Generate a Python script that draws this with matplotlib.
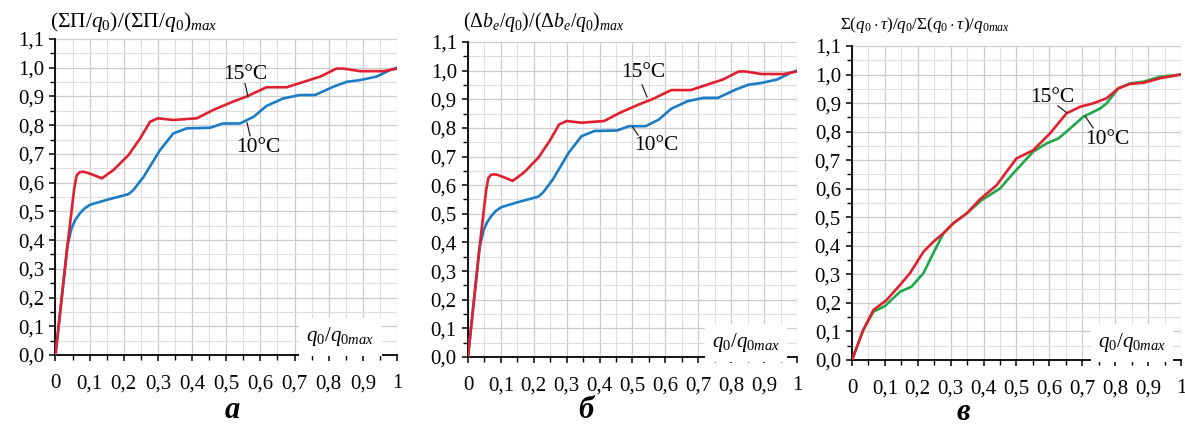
import matplotlib.pyplot as plt
from matplotlib.ticker import MultipleLocator, FuncFormatter

# === Fonts ===
plt.rcParams["font.family"] = ["Liberation Serif", "DejaVu Serif"]
plt.rcParams["mathtext.fontset"] = "custom"
plt.rcParams["mathtext.rm"] = "Liberation Serif"
plt.rcParams["mathtext.it"] = "Liberation Serif:italic"
plt.rcParams["mathtext.bf"] = "Liberation Serif:bold"

# === Data ===
# panel a / б : red = 15 °C, blue = 10 °C
x_red_ab = [0, 0.035, 0.055, 0.062, 0.07, 0.08, 0.092, 0.115, 0.136, 0.17, 0.214, 0.248,
            0.277, 0.30, 0.345, 0.414, 0.462, 0.52, 0.56, 0.618, 0.677, 0.775, 0.823,
            0.843, 0.892, 0.96, 1.0]
y_red_ab = [0, 0.38, 0.58, 0.625, 0.636, 0.638, 0.635, 0.625, 0.615, 0.644, 0.696, 0.754,
            0.812, 0.824, 0.818, 0.824, 0.853, 0.882, 0.90, 0.932, 0.932, 0.969, 0.997,
            0.997, 0.988, 0.988, 0.997]
x_blue_ab = [0, 0.035, 0.047, 0.058, 0.072, 0.085, 0.101, 0.15, 0.214, 0.228, 0.258, 0.306,
             0.345, 0.384, 0.453, 0.49, 0.54, 0.58, 0.618, 0.667, 0.716, 0.76, 0.814,
             0.853, 0.892, 0.94, 0.98, 1.0]
y_blue_ab = [0, 0.38, 0.441, 0.47, 0.494, 0.51, 0.523, 0.54, 0.56, 0.574, 0.62, 0.713,
             0.771, 0.789, 0.791, 0.806, 0.806, 0.829, 0.867, 0.893, 0.905, 0.905, 0.934,
             0.951, 0.957, 0.969, 0.992, 1.0]

# panel в : red = 15 °C, green = 10 °C
x_red_c = [0, 0.034, 0.065, 0.105, 0.146, 0.176, 0.217, 0.247, 0.278, 0.308, 0.349, 0.389,
           0.44, 0.47, 0.50, 0.551, 0.602, 0.652, 0.693, 0.733, 0.774, 0.81, 0.845,
           0.886, 0.936, 1.0]
y_red_c = [0, 0.105, 0.175, 0.21, 0.263, 0.304, 0.379, 0.414, 0.444, 0.479, 0.514, 0.563,
           0.613, 0.66, 0.706, 0.735, 0.794, 0.864, 0.887, 0.899, 0.917, 0.952, 0.967,
           0.971, 0.987, 1.0]
x_green_c = [0, 0.034, 0.065, 0.10, 0.146, 0.181, 0.217, 0.247, 0.278, 0.308, 0.349, 0.394,
             0.45, 0.49, 0.551, 0.592, 0.627, 0.652, 0.703, 0.754, 0.774, 0.81, 0.845,
             0.886, 0.936, 1.0]
y_green_c = [0, 0.105, 0.169, 0.189, 0.239, 0.257, 0.304, 0.374, 0.444, 0.479, 0.514, 0.56,
             0.601, 0.654, 0.73, 0.759, 0.776, 0.80, 0.852, 0.881, 0.899, 0.952, 0.969,
             0.975, 0.992, 1.0]

titles = [r"$(\Sigma\Pi/q_0)/(\Sigma\Pi/q_0)_{max}$",
          r"$(\Delta b_e/q_0)/(\Delta b_e/q_0)_{max}$",
          r"$\Sigma(q_0\cdot\tau)/q_0/\Sigma(q_0\cdot\tau)/q_{0max}$"]
panel_labels = ["а", "б", "в"]

RED = "#e0202e"
BLUE = "#1a7cc4"
GREEN = "#1fa84a"

# === Layout ===
fig = plt.figure(figsize=(11.85, 4.30), dpi=100)
rects = [[0.0468, 0.1744, 0.2882, 0.7349],
         [0.3949, 0.1698, 0.2777, 0.7326],
         [0.7190, 0.1628, 0.2776, 0.7302]]
axes = [fig.add_axes(r) for r in rects]


def fmt_x(v, pos):
    if abs(v) < 1e-9:
        return "0"
    if abs(v - 1) < 1e-9:
        return "1"
    return f"{v:.1f}".replace(".", ",")


def fmt_y(v, pos):
    return f"{v:.1f}".replace(".", ",")


series = [
    [(x_blue_ab, y_blue_ab, BLUE), (x_red_ab, y_red_ab, RED)],
    [(x_blue_ab, y_blue_ab, BLUE), (x_red_ab, y_red_ab, RED)],
    [(x_green_c, y_green_c, GREEN), (x_red_c, y_red_c, RED)],
]

# label positions: (text xy, leader start, leader end) in data coords
notes = [
    [("15°C", (0.555, 0.976), (0.555, 0.945), (0.564, 0.899)),
     ("10°C", (0.593, 0.721), (0.570, 0.763), (0.561, 0.808))],
    [("15°C", (0.532, 0.995), (0.529, 0.950), (0.544, 0.908)),
     ("10°C", (0.574, 0.740), (0.517, 0.775), (0.500, 0.803))],
    [("15°C", (0.608, 0.921), (0.626, 0.890), (0.653, 0.866)),
     ("10°C", (0.775, 0.774), (0.733, 0.813), (0.708, 0.855))],
]
xlab_pos = [(0.834, 0.063), (0.845, 0.049), (0.851, 0.060)]
title_pos = [(-0.016, 1.054), (-0.015, 1.063), (-0.036, 1.067)]
title_size = [15.5, 14.3, 12.3]
plabel_pos = [(0.196, 0.045), (0.494, 0.045), (0.813, 0.040)]

for i, ax in enumerate(axes):
    ax.set_xlim(0, 1)
    ax.set_ylim(0, 1.1)
    ax.xaxis.set_major_locator(MultipleLocator(0.1))
    ax.xaxis.set_minor_locator(MultipleLocator(0.05))
    ax.yaxis.set_major_locator(MultipleLocator(0.1))
    ax.yaxis.set_minor_locator(MultipleLocator(0.05))
    ax.xaxis.set_major_formatter(FuncFormatter(fmt_x))
    ax.yaxis.set_major_formatter(FuncFormatter(fmt_y))
    ax.grid(True, which="major", color="#cccccc", lw=0.9)
    ax.grid(True, which="minor", color="#dedede", lw=0.8)
    ax.set_axisbelow(True)
    for s in ["top", "right"]:
        ax.spines[s].set_visible(False)
    for s in ["left", "bottom"]:
        ax.spines[s].set_linewidth(1.3)
    ax.tick_params(which="major", length=4, width=1.1, labelsize=15)
    ax.tick_params(which="minor", length=3.5, width=1.0)
    ax.tick_params(axis="x", which="major", pad=10)
    ax.tick_params(axis="y", which="major", pad=4)

    for xs, ys, c in series[i]:
        ax.plot(xs, ys, color=c, lw=1.9, solid_capstyle="round", zorder=3)

    for txt, tp, p1, p2 in notes[i]:
        ax.plot([p1[0], p2[0]], [p1[1], p2[1]], color="#222222", lw=0.9, zorder=4)
        ax.text(tp[0], tp[1], txt, ha="center", va="center", fontsize=15.5, zorder=5)

    ax.text(xlab_pos[i][0], xlab_pos[i][1], r"$q_0/q_{0max}$", ha="center", va="center",
            fontsize=15, zorder=5,
            bbox=dict(boxstyle="square,pad=0.35", fc="white", ec="none"))
    ax.text(title_pos[i][0], title_pos[i][1], titles[i], transform=ax.transAxes,
            ha="left", va="center", fontsize=title_size[i])

    fig.text(plabel_pos[i][0], plabel_pos[i][1], panel_labels[i], ha="center", va="center",
             fontsize=22, fontweight="bold", fontstyle="italic")

plt.savefig("out.png", dpi=100)
